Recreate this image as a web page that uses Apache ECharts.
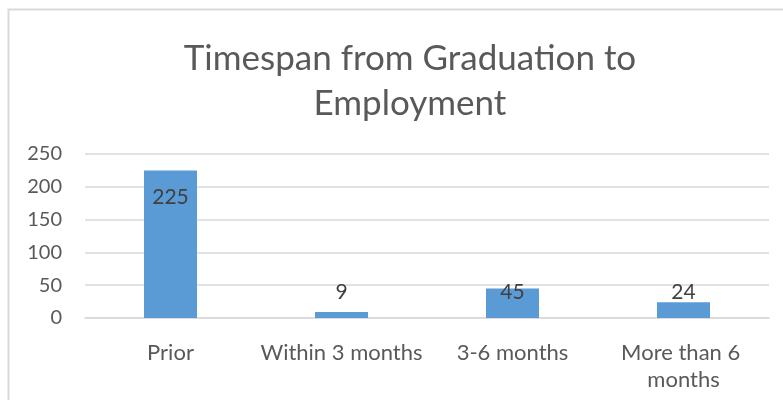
<!DOCTYPE html>
<html>
<head>
<meta charset="utf-8">
<script src="https://cdn.jsdelivr.net/npm/echarts@6/dist/echarts.min.js"></script>
<style>
html,body{margin:0;padding:0;background:#fff;}
#chart{width:783px;height:400px;}
</style>
</head>
<body>
<div id="chart"></div>
<script>
const titleText = "Timespan from Graduation to\nEmployment";
const categories = ["Prior", "Within 3 months", "3-6 months", "More than 6 months"];
const values = [225, 9, 45, 24];
const yTicks = { min: 0, max: 250, interval: 50 };

const FONT = "Lato";
const chart = echarts.init(document.getElementById('chart'), null, { renderer: 'canvas' });

const seriesData = values.map(v => ({
  value: v,
  label: v > 100
    ? { position: 'insideTop', distance: 16 }
    : { position: 'insideBottom', distance: 15 }
}));

chart.setOption({
  animation: false,
  backgroundColor: '#ffffff',
  graphic: [{
    type: 'rect',
    shape: { x: 8.5, y: 9.5, width: 800, height: 420 },
    style: { fill: 'none', stroke: '#d9d9d9', lineWidth: 2 },
    silent: true
  }],
  title: {
    text: titleText,
    left: 405,
    top: 31,
    textAlign: 'center',
    textStyle: { fontFamily: FONT, fontSize: 35, fontWeight: 'normal', color: '#595959', lineHeight: 45 }
  },
  grid: { left: 85, right: 14, top: 154, bottom: 82, containLabel: false },
  xAxis: {
    type: 'category',
    data: categories,
    axisLine: { show: true, lineStyle: { color: '#d9d9d9', width: 1.5 } },
    axisTick: { show: false },
    axisLabel: {
      interval: 0,
      fontFamily: FONT, fontSize: 22, color: '#595959', margin: 21,
      width: 170, overflow: 'break', lineHeight: 27
    }
  },
  yAxis: {
    type: 'value',
    min: yTicks.min, max: yTicks.max, interval: yTicks.interval,
    axisLine: { show: false },
    axisTick: { show: false },
    splitLine: { lineStyle: { color: '#d9d9d9', width: 1.5 } },
    axisLabel: { fontFamily: FONT, fontSize: 20, color: '#595959', margin: 23 }
  },
  series: [{
    type: 'bar',
    data: seriesData,
    barWidth: '31%',
    itemStyle: { color: '#5b9bd5' },
    label: { show: true, fontFamily: FONT, fontSize: 21, color: '#404040' }
  }]
});
</script>
</body>
</html>
